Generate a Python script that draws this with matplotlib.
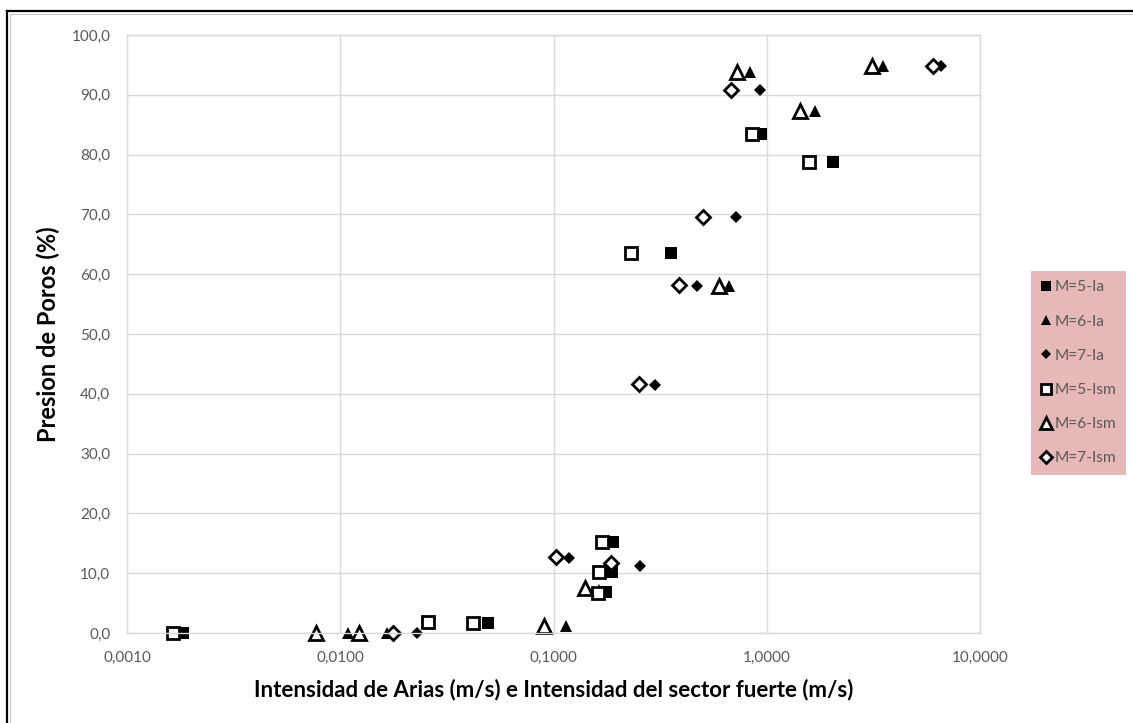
import matplotlib
matplotlib.use("Agg")
import matplotlib.pyplot as plt
from matplotlib.ticker import FixedLocator, FuncFormatter
from matplotlib.lines import Line2D

plt.rcParams['font.family'] = ['Lato', 'DejaVu Sans']

# Intensidad de Arias (Ia) y del sector fuerte (Ism) vs presion de poros
m5_ia_x = [0.00183, 0.0495, 0.177, 0.189, 0.191, 0.354, 0.937, 2.04]
m5_ia_y = [0.0, 1.7, 6.8, 10.2, 15.2, 63.5, 83.5, 78.8]

m6_ia_x = [0.0109, 0.0166, 0.115, 0.163, 0.663, 0.832, 1.68, 3.5]
m6_ia_y = [0.0, 0.0, 1.2, 7.2, 58.0, 93.8, 87.3, 94.8]

m7_ia_x = [0.023, 0.1176, 0.2535, 0.298, 0.469, 0.715, 0.927, 6.56]
m7_ia_y = [0.0, 12.6, 11.2, 41.5, 58.0, 69.5, 90.8, 94.8]

m5_ism_x = [0.00164, 0.0259, 0.0421, 0.161, 0.1627, 0.168, 0.230, 0.851, 1.574]
m5_ism_y = [0.0, 1.8, 1.7, 6.7, 10.2, 15.3, 63.5, 83.5, 78.8]

m6_ism_x = [0.00771, 0.0123, 0.0907, 0.140, 0.595, 0.723, 1.43, 3.11]
m6_ism_y = [0.0, 0.0, 1.2, 7.5, 58.0, 93.8, 87.3, 94.8]

m7_ism_x = [0.0177, 0.103, 0.187, 0.251, 0.386, 0.501, 0.678, 6.01]
m7_ism_y = [0.0, 12.7, 11.7, 41.6, 58.2, 69.6, 90.8, 94.8]

x_ticks = [0.001, 0.01, 0.1, 1, 10]
y_ticks = [0, 10, 20, 30, 40, 50, 60, 70, 80, 90, 100]

W, H = 1133, 723
fig = plt.figure(figsize=(W / 100, H / 100), dpi=100)
fig.patch.set_facecolor('white')

# outer chart frame (black line with a thin grey line inside)
fig.add_artist(Line2D([7 / W, 1], [1 - 11 / H, 1 - 11 / H], color='black', lw=1.6))
fig.add_artist(Line2D([7 / W, 7 / W], [0, 1 - 11 / H], color='black', lw=1.6))
fig.add_artist(Line2D([10 / W, 1], [1 - 14 / H, 1 - 14 / H], color='#c8c8c8', lw=0.8))
fig.add_artist(Line2D([10 / W, 10 / W], [0, 1 - 14 / H], color='#c8c8c8', lw=0.8))

L, R, T, B = 127, 980, 35, 633
ax = fig.add_axes([L / W, 1 - B / H, (R - L) / W, (B - T) / H])
ax.set_xscale('log')
ax.set_xlim(0.001, 10)
ax.set_ylim(0, 100)

ax.xaxis.set_major_locator(FixedLocator(x_ticks))
ax.xaxis.set_minor_locator(FixedLocator([]))
ax.yaxis.set_major_locator(FixedLocator(y_ticks))
ax.xaxis.set_major_formatter(FuncFormatter(lambda v, p: f"{v:.4f}".replace('.', ',')))
ax.yaxis.set_major_formatter(FuncFormatter(lambda v, p: f"{v:.1f}".replace('.', ',')))
ax.tick_params(axis='both', length=0, labelsize=11, labelcolor='#595959')
ax.tick_params(axis='x', pad=13)
ax.tick_params(axis='y', pad=12)

ax.grid(True, color='#d9d9d9', lw=1.0)
ax.set_axisbelow(True)
for s in ax.spines.values():
    s.set_color('#d9d9d9')
    s.set_linewidth(1.0)

filled = dict(linestyle='none', color='black', markeredgewidth=0)
hollow = dict(linestyle='none', markerfacecolor='white', markeredgecolor='black', markeredgewidth=2.0)

h1, = ax.plot(m5_ia_x, m5_ia_y, marker='s', markersize=8.3, label='M=5-Ia', **filled)
h2, = ax.plot(m6_ia_x, m6_ia_y, marker='^', markersize=8.5, label='M=6-Ia', **filled)
h3, = ax.plot(m7_ia_x, m7_ia_y, marker='D', markersize=6.0, label='M=7-Ia', **filled)
h4, = ax.plot(m5_ism_x, m5_ism_y, marker='s', markersize=9.0, label='M=5-Ism', **hollow)
h5, = ax.plot(m6_ism_x, m6_ism_y, marker='^', markersize=9.5, label='M=6-Ism', **hollow)
h6, = ax.plot(m7_ism_x, m7_ism_y, marker='D', markersize=6.8, label='M=7-Ism', **hollow)
for h in (h1, h2, h3, h4, h5, h6):
    h.set_clip_on(False)

ax.set_xlabel('Intensidad de Arias (m/s) e Intensidad del sector fuerte (m/s)',
              fontsize=16, fontweight='bold', color='black', labelpad=10)
ax.set_ylabel('Presion de Poros (%)', fontsize=17, fontweight='bold', color='black', labelpad=8)

leg = fig.legend(handles=[h1, h2, h3, h4, h5, h6], loc='upper left',
                 bbox_to_anchor=(1031 / W, 1 - 271 / H), borderaxespad=0,
                 frameon=True, fancybox=False, facecolor='#e6b8b7', edgecolor='none',
                 framealpha=1, fontsize=11.2, labelcolor='#595959',
                 handlelength=0.7, handletextpad=0.25, labelspacing=1.3,
                 borderpad=0.6, markerscale=0.85)

fig.savefig('out.png', dpi=100)
